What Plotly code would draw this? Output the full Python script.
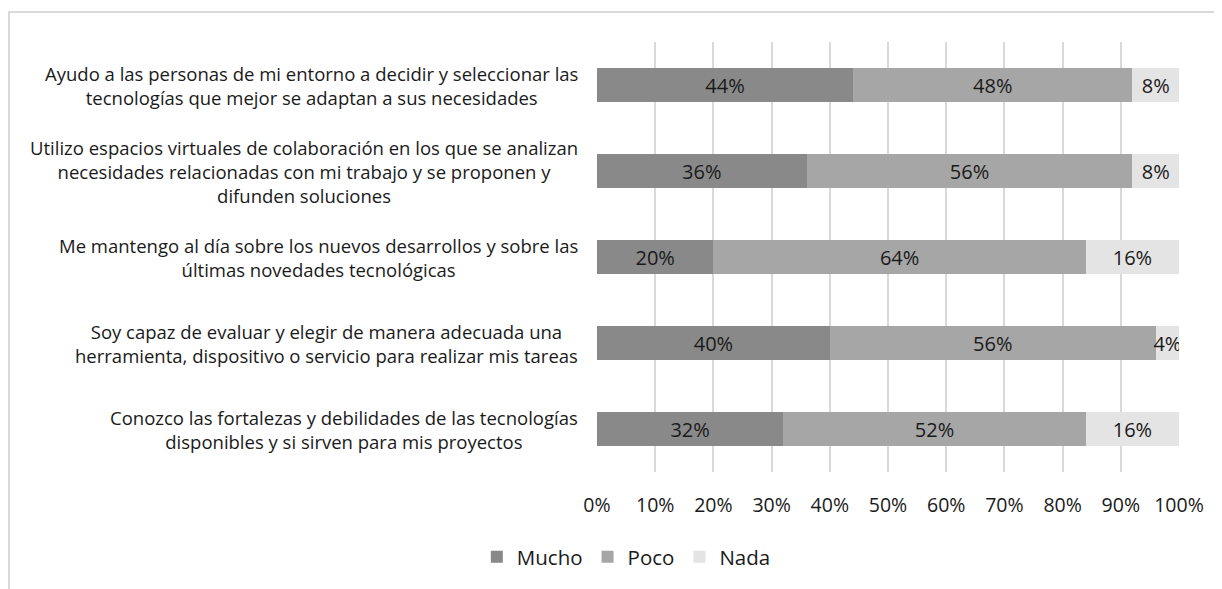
import plotly.graph_objects as go

# ── data ────────────────────────────────────────────────────────────
categories = [
    "Ayudo a las personas de mi entorno a decidir y seleccionar las<br>tecnologías que mejor se adaptan a sus necesidades",
    "Utilizo espacios virtuales de colaboración en los que se analizan<br>necesidades relacionadas con mi trabajo y se proponen y<br>difunden soluciones",
    "Me mantengo al día sobre los nuevos desarrollos y sobre las<br>últimas novedades tecnológicas",
    "Soy capaz de evaluar y elegir de manera adecuada una<br>herramienta, dispositivo o servicio para realizar mis tareas",
    "Conozco las fortalezas y debilidades de las tecnologías<br>disponibles y si sirven para mis proyectos",
]
mucho = [44, 36, 20, 40, 32]
poco = [48, 56, 64, 56, 52]
nada = [8, 8, 16, 4, 16]

series = [("Mucho", mucho, "#898989"), ("Poco", poco, "#a6a6a6"), ("Nada", nada, "#e4e4e4")]
font_family = "Open Sans, sans-serif"
text_color = "#1a1a1a"

fig = go.Figure()

# ── stacked bars ────────────────────────────────────────────────────
for name, vals, color in series:
    fig.add_trace(go.Bar(
        y=list(range(len(categories))),
        x=[v / 100 for v in vals],
        orientation="h",
        name=name,
        marker=dict(color=color, line=dict(width=0)),
        text=[f"{v}%" for v in vals],
        textposition="inside",
        insidetextanchor="middle",
        constraintext="none",
        textangle=0,
        textfont=dict(color=text_color, size=20, family=font_family),
        hoverinfo="skip",
    ))

# ── category labels (centered multi-line, like the original) ───────
for i, label in enumerate(categories):
    fig.add_annotation(
        x=0, xref="paper", y=i, yref="y",
        text=label, showarrow=False,
        xanchor="right", align="center", xshift=-17,
        font=dict(size=18.5, color=text_color, family=font_family),
    )

# outer chart frame (cut off at right/bottom in the reference)
fig.add_shape(type="rect", xref="paper", yref="paper",
              x0=-1.0103, x1=1.2, y0=-0.6, y1=1.0698,
              line=dict(color="#d9d9d9", width=2), fillcolor="rgba(0,0,0,0)")

fig.update_layout(
    barmode="stack",
    bargap=0.6,
    width=1222, height=589,
    margin=dict(l=589, r=51, t=34, b=125),
    paper_bgcolor="white",
    plot_bgcolor="white",
    font=dict(family=font_family, size=18, color=text_color),
    xaxis=dict(
        range=[0, 1], tickformat=".0%", dtick=0.1,
        showgrid=True, gridcolor="#d9d9d9", gridwidth=2,
        zeroline=False, showline=False, ticks="",
        ticklabelstandoff=19,
        tickfont=dict(size=19.5), fixedrange=True,
    ),
    yaxis=dict(
        range=[4.5, -0.5], showticklabels=False, showgrid=False,
        zeroline=False, showline=False, fixedrange=True,
    ),
    legend=dict(orientation="h", x=0.506, xanchor="center", xref="container",
                y=0.068, yanchor="middle", yref="container",
                font=dict(size=20.5), traceorder="normal", itemwidth=30),
    showlegend=True,
)

fig.write_html("out.html")
